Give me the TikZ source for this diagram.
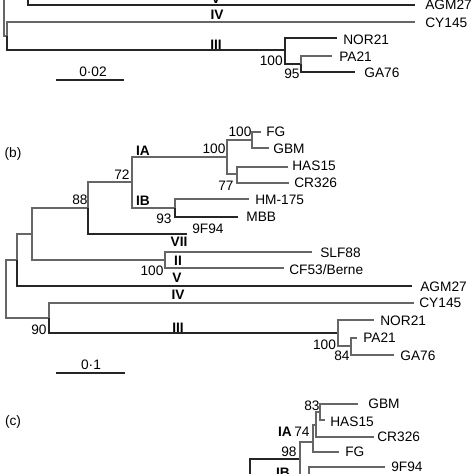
\documentclass[tikz,border=0pt]{standalone}
\usepackage{fontspec}
\setmainfont{Liberation Sans}
\begin{document}
\begin{tikzpicture}[x=0.02cm,y=-0.02cm,
    branch/.style={draw=black!60,line width=0.65pt},
    heavy/.style={draw=black!85,line width=0.85pt},
    leaf/.style={anchor=west,inner sep=0pt,font=\fontsize{7.8}{8}\selectfont},
    boot/.style={inner sep=0pt,font=\fontsize{7.8}{8}\selectfont},
    clade/.style={inner sep=0pt,font=\fontsize{7.8}{8}\selectfont\bfseries},
    panel/.style={inner sep=0pt,font=\fontsize{7.8}{8}\selectfont}]
    \useasboundingbox (0,0) rectangle (474,474);
    \clip (0,0) rectangle (474,474);
    % tree a
    \coordinate (aTop) at (4,-20);\coordinate (aR) at (4,36);\coordinate (a90) at (7,36);
    \coordinate (aVtop) at (28,-20);\coordinate (a100) at (285,50);\coordinate (a95) at (301,64);
    \coordinate (tAGMa) at (415,5);\coordinate (tCYa) at (415,22);
    \coordinate (tNORa) at (337,38);\coordinate (tPAa) at (332,56);\coordinate (tGAa) at (355,72);
    \draw [branch] (aTop) -- (aR) -- (a90);
    \draw [branch] (a90) |- (tCYa);\draw [heavy] (a90) |- (a100);
    \draw [heavy] (aVtop) |- (tAGMa);
    \draw [heavy] (a100) |- (tNORa);\draw [heavy] (a100) |- (a95);
    \draw [branch] (a95) |- (tPAa);\draw [heavy] (a95) |- (tGAa);
    \node [clade] (aV) at (216,-1.5) {V};
    \node [clade] (aIV) at (217,14.5) {IV};
    \node [clade] (aIII) at (216,44.5) {III};
    \node [leaf] (lAGMa) at (425,5) {AGM27};
    \node [leaf] (lCYa) at (425,22.5) {CY145};
    \node [leaf] (lNORa) at (343,39.5) {NOR21};
    \node [leaf] (lPAa) at (339,57) {PA21};
    \node [leaf] (lGAa) at (364,73) {GA76};
    \node [boot, anchor=east] (bs100a) at (283,61) {100};
    \node [boot] (bs95a) at (292,74) {95};
    % scale a
    \coordinate (sa1) at (56,80);\coordinate (sa2) at (124,80);
    \draw [heavy] (sa1) -- (sa2);
    \node [boot] (sla) at (93,72) {0·02};
    % tree b
    \node [panel] (pb) at (13,154) {(b)};
    \coordinate (bRoot) at (6,289);\coordinate (bN1) at (17,260);\coordinate (bN2) at (32,234);
    \coordinate (b88) at (88,208);\coordinate (b72) at (132,182);\coordinate (bIA) at (227,157);
    \coordinate (bFG) at (252,140);\coordinate (b77) at (237,174);\coordinate (b93) at (175,208);
    \coordinate (bII) at (165,260);\coordinate (b90) at (49,318);\coordinate (b100) at (338,333);
    \coordinate (b84) at (351,346);
    \coordinate (tAGMb) at (412,286);\coordinate (tCYb) at (414,303);\coordinate (tSLF) at (312,252);
    \coordinate (tCF) at (284,268);\coordinate (t9F) at (187,234);\coordinate (tFGb) at (261,132);
    \coordinate (tGBMb) at (269,148);\coordinate (tHASb) at (288,167);\coordinate (tCRb) at (289,183);
    \coordinate (tHM) at (249,199);\coordinate (tMBB) at (238,217);\coordinate (tNORb) at (374,320);
    \coordinate (tPAb) at (357,338);\coordinate (tGAb) at (394,355);
    \draw [branch] (bRoot) |- (bN1);\draw [branch] (bRoot) |- (b90);
    \draw [branch] (bN1) |- (bN2);\draw [heavy] (bN1) |- (tAGMb);
    \draw [branch] (bN2) |- (b88);\draw [branch] (bN2) |- (bII);
    \draw [branch] (b88) |- (b72);\draw [heavy] (b88) |- (t9F);
    \draw [branch] (b72) |- (bIA);\draw [branch] (b72) |- (b93);
    \draw [branch] (bIA) |- (bFG);\draw [branch] (bIA) |- (b77);
    \draw [branch] (bFG) |- (tFGb);\draw [branch] (bFG) |- (tGBMb);
    \draw [branch] (b77) |- (tHASb);\draw [branch] (b77) |- (tCRb);
    \draw [branch] (b93) |- (tHM);\draw [heavy] (b93) |- (tMBB);
    \draw [branch] (bII) |- (tSLF);\draw [branch] (bII) |- (tCF);
    \draw [branch] (b90) |- (tCYb);\draw [heavy] (b90) |- (b100);
    \draw [branch] (b100) |- (tNORb);\draw [branch] (b100) |- (b84);
    \draw [branch] (b84) |- (tPAb);\draw [branch] (b84) |- (tGAb);
    \node [clade] (bIAl) at (143,151) {IA};
    \node [clade] (bIBl) at (143,201) {IB};
    \node [clade] (bVIIl) at (179,242) {VII};
    \node [clade] (bIIl) at (178,261) {II};
    \node [clade] (bVl) at (177,278) {V};
    \node [clade] (bIVl) at (178,294.5) {IV};
    \node [clade] (bIIIl) at (178,327.5) {III};
    \node [leaf] (lFGb) at (266,132) {FG};
    \node [leaf] (lGBMb) at (273,149) {GBM};
    \node [leaf] (lHASb) at (292,166) {HAS15};
    \node [leaf] (lCRb) at (294,183) {CR326};
    \node [leaf] (lHM) at (255,200) {HM-175};
    \node [leaf] (lMBB) at (246,217) {MBB};
    \node [leaf] (l9F) at (192,229) {9F94};
    \node [leaf] (lSLF) at (320,253) {SLF88};
    \node [leaf] (lCF) at (289,270) {CF53/Berne};
    \node [leaf] (lAGMb) at (420,287) {AGM27};
    \node [leaf] (lCYb) at (419,303) {CY145};
    \node [leaf] (lNORb) at (380,320.5) {NOR21};
    \node [leaf] (lPAb) at (363,338) {PA21};
    \node [leaf] (lGAb) at (400,356) {GA76};
    \node [boot] (bs100u) at (240,131.5) {100};
    \node [boot] (bs100ia) at (214,148.5) {100};
    \node [boot] (bs72) at (122,175) {72};
    \node [boot] (bs77) at (226,185.5) {77};
    \node [boot] (bs88) at (80,200) {88};
    \node [boot] (bs93) at (164,218.5) {93};
    \node [boot] (bs100ii) at (152,270.5) {100};
    \node [boot] (bs90) at (39,330) {90};
    \node [boot] (bs100b) at (324.5,344.5) {100};
    \node [boot] (bs84) at (342,356) {84};
    % scale b
    \coordinate (sb1) at (56,373);\coordinate (sb2) at (125,373);
    \draw [heavy] (sb1) -- (sb2);
    \node [boot] (slb) at (91,365) {0·1};
    % tree c
    \node [panel] (pc) at (13,422) {(c)};
    \coordinate (cA) at (250,495);\coordinate (c98) at (300,459);\coordinate (cIB) at (309,482);
    \coordinate (c74) at (313,442);\coordinate (cX) at (316,425);\coordinate (c83) at (320,412);
    \coordinate (tGBMc) at (358,404);\coordinate (tHASc) at (325,420);\coordinate (tCRc) at (374,437);
    \coordinate (tFGc) at (339,452);\coordinate (t9Fc) at (385,467);\coordinate (cIBlow) at (400,497);
    \draw [heavy] (cA) |- (c98);
    \draw [branch] (c98) |- (c74);\draw [branch] (c98) |- (cIB);
    \draw [branch] (c74) |- (cX);\draw [branch] (c74) |- (tFGc);
    \draw [branch] (cX) |- (c83);\draw [branch] (cX) |- (tCRc);
    \draw [branch] (c83) |- (tGBMc);\draw [branch] (c83) |- (tHASc);
    \draw [branch] (cIB) |- (t9Fc);\draw [branch] (cIB) |- (cIBlow);
    \node [clade] (cIAl) at (285,432) {IA};
    \node [clade] (cIBl) at (283,473) {IB};
    \node [leaf] (lGBMc) at (368,404) {GBM};
    \node [leaf] (lHASc) at (330,422) {HAS15};
    \node [leaf] (lCRc) at (377,437) {CR326};
    \node [leaf] (lFGc) at (345,452) {FG};
    \node [leaf] (l9Fc) at (391,467) {9F94};
    \node [boot] (bs83) at (312,406) {83};
    \node [boot] (bs74) at (302,432) {74};
    \node [boot] (bs98) at (289,452) {98};
\end{tikzpicture}
\end{document}
